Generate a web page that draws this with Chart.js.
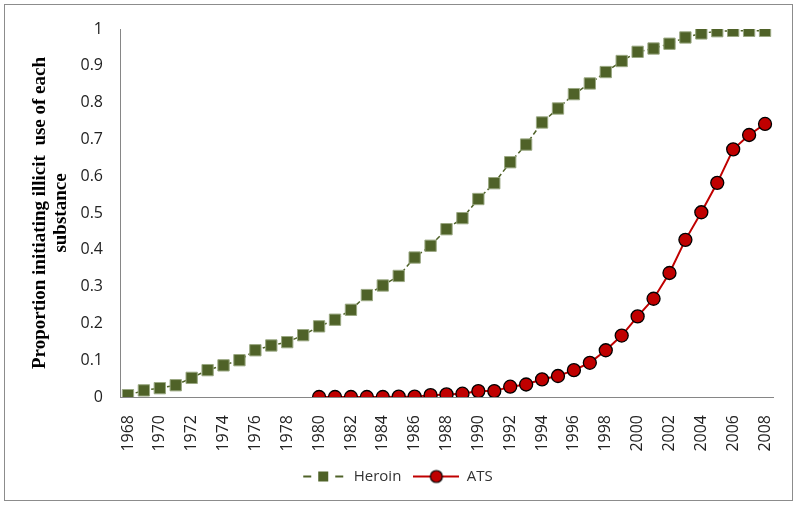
<!DOCTYPE html>
<html>
<head>
<meta charset="utf-8">
<script src="https://cdn.jsdelivr.net/npm/chart.js@4"></script>
<style>
  html, body { margin: 0; padding: 0; background: #fff; }
  #wrap { width: 800px; height: 509px; }
</style>
</head>
<body>
<div id="wrap"><canvas id="chart" width="800" height="509"></canvas></div>
<script>
const years = [
  1968, 1969, 1970, 1971, 1972, 1973, 1974, 1975, 1976, 1977,
  1978, 1979, 1980, 1981, 1982, 1983, 1984, 1985, 1986, 1987,
  1988, 1989, 1990, 1991, 1992, 1993, 1994, 1995, 1996, 1997,
  1998, 1999, 2000, 2001, 2002, 2003, 2004, 2005, 2006, 2007, 2008
];
const heroin = [
  0.005, 0.018, 0.024, 0.032, 0.052, 0.073, 0.086, 0.1, 0.127, 0.14,
  0.149, 0.168, 0.192, 0.21, 0.237, 0.277, 0.303, 0.329, 0.379, 0.411,
  0.456, 0.486, 0.538, 0.581, 0.638, 0.686, 0.746, 0.784, 0.823, 0.852,
  0.883, 0.913, 0.938, 0.947, 0.96, 0.977, 0.988, 0.994, 0.995, 0.995, 0.995
];
const ats = [
  null, null, null, null, null, null, null, null, null, null,
  null, null, 0, 0, 0, 0, 0, 0.001, 0.001, 0.005,
  0.007, 0.009, 0.016, 0.016, 0.028, 0.034, 0.048, 0.057, 0.073, 0.093,
  0.127, 0.167, 0.219, 0.267, 0.337, 0.427, 0.502, 0.582, 0.673, 0.712, 0.742
];
const yTitle = ["Proportion initiating illicit  use of each", "substance"];

const heroinColor = "#4f6228";
const atsColor = "#c00000";

// legend swatches: line + marker like the office chart
function heroinSwatch() {
  const c = document.createElement("canvas");
  c.width = 44; c.height = 16;
  const g = c.getContext("2d");
  g.strokeStyle = heroinColor; g.lineWidth = 2;
  g.beginPath(); g.moveTo(2, 8); g.lineTo(10, 8); g.moveTo(34, 8); g.lineTo(42, 8); g.stroke();
  g.fillStyle = heroinColor;
  g.fillRect(17, 3, 10, 10);
  return c;
}
function atsSwatch() {
  const c = document.createElement("canvas");
  c.width = 46; c.height = 16;
  const g = c.getContext("2d");
  g.strokeStyle = atsColor; g.lineWidth = 2;
  g.beginPath(); g.moveTo(0, 8); g.lineTo(46, 8); g.stroke();
  g.fillStyle = atsColor; g.strokeStyle = "#000"; g.lineWidth = 1.2;
  g.beginPath(); g.arc(23, 8, 6, 0, Math.PI * 2); g.fill(); g.stroke();
  return c;
}
const swatches = [heroinSwatch(), atsSwatch()];

const frame = {
  id: "frame",
  afterDraw(chart) {
    const ctx = chart.ctx;
    ctx.save();
    ctx.strokeStyle = "#8c8c8c";
    ctx.lineWidth = 1;
    ctx.strokeRect(4.5, 4.5, 788, 496);
    ctx.restore();
  }
};

new Chart(document.getElementById("chart").getContext("2d"), {
  type: "line",
  data: {
    labels: years,
    datasets: [
      {
        label: "Heroin",
        data: heroin,
        borderColor: heroinColor,
        borderWidth: 1.5,
        borderDash: [5, 3],
        pointStyle: "rect",
        pointRadius: 8,
        pointBackgroundColor: heroinColor,
        pointBorderColor: "#9aa882",
        pointBorderWidth: 1,
        tension: 0
      },
      {
        label: "ATS",
        data: ats,
        borderColor: atsColor,
        borderWidth: 2,
        pointStyle: "circle",
        pointRadius: 6.5,
        pointBackgroundColor: atsColor,
        pointBorderColor: "#000",
        pointBorderWidth: 1.3,
        tension: 0
      }
    ]
  },
  options: {
    responsive: false,
    animation: false,
    layout: { padding: { left: 20, top: 29, right: 27, bottom: 15 } },
    plugins: {
      tooltip: { enabled: false },
      legend: {
        position: "bottom",
        labels: {
          usePointStyle: true,
          pointStyleWidth: 46,
          padding: 12,
          color: "#333",
          font: { family: "Open Sans", size: 15 },
          generateLabels: (chart) => chart.data.datasets.map((ds, i) => ({
            text: ds.label,
            pointStyle: swatches[i],
            fillStyle: "transparent",
            strokeStyle: "transparent",
            lineWidth: 0,
            fontColor: "#333",
            datasetIndex: i
          }))
        }
      }
    },
    scales: {
      x: {
        offset: true,
        grid: { display: false },
        border: { display: true, color: "#868686" },
        ticks: {
          autoSkip: false,
          maxRotation: 90,
          minRotation: 90,
          padding: 10,
          color: "#222",
          font: { family: "Open Sans", size: 16 },
          callback: function (v, i) { return years[i] % 2 === 0 ? String(years[i]) : ""; }
        },
        afterFit: (s) => { s.height = 60; }
      },
      y: {
        min: 0,
        max: 1,
        grid: { display: false, drawTicks: false },
        border: { display: true, color: "#868686" },
        ticks: {
          stepSize: 0.1,
          padding: 17,
          color: "#222",
          font: { family: "Open Sans", size: 16 },
          callback: (v) => String(Math.round(v * 10) / 10)
        },
        title: {
          display: true,
          text: yTitle,
          color: "#000",
          font: { family: "Liberation Serif", size: 19, weight: "bold", lineHeight: 1.1 },
          padding: { top: 10, bottom: 0 }
        },
        afterFit: (s) => { s.width = 100; }
      }
    }
  },
  plugins: [frame]
});
</script>
</body>
</html>
